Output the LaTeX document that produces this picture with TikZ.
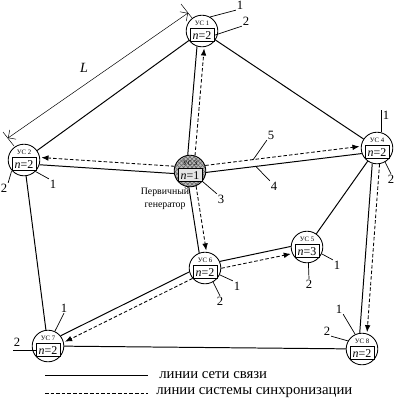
\documentclass[tikz,border=0pt]{standalone}
\usepackage{fontspec}
\setmainfont{Liberation Serif}
\usetikzlibrary{arrows.meta,calc,patterns}

\begin{document}
\begin{tikzpicture}[x=0.025cm, y=-0.025cm,
    uc/.style={circle, draw, fill=white, minimum size=0.79cm, inner sep=0pt, line width=0.6pt},
    ucg/.style={circle, draw, minimum size=0.79cm, inner sep=0pt, line width=0.6pt,
        preaction={fill=gray!55}, pattern=crosshatch, pattern color=black!60},
    uctxt/.style={font=\fontsize{4.8}{5}\selectfont, inner sep=0pt},
    nbox/.style={draw, line width=0.7pt, fill=white, minimum width=0.6cm, minimum height=0.33cm,
        inner sep=0pt, font=\fontsize{8.5}{9}\selectfont},
    comm/.style={line width=0.7pt},
    sync/.style={dash pattern=on 2.5pt off 1.5pt, line width=0.6pt, shorten >=1pt,
        -{Latex[length=5pt,width=4pt]}},
    dim/.style={line width=0.35pt},
    num/.style={font=\fontsize{9}{9}\selectfont, inner sep=0.5pt},
    lead/.style={line width=0.5pt},
    legtxt/.style={font=\fontsize{10.5}{11}\selectfont, inner sep=0pt}]

    \useasboundingbox (0,0) rectangle (400,410);

    % 1. Disegna i nodi (cerchi con la scritta e il riquadro n)
    \foreach \nm/\x/\y/\k/\n in {u1/202/31/1/2, u2/24/160/2/2, u4/377/148/4/2,
        u5/307/247/5/3, u6/205/268/6/2, u7/48/346/7/2, u8/362/349/8/2}
    {
        \node[uc] (\nm) at (\x,\y) {};
        \node[uctxt] (\nm t) at ([yshift=5.5pt]\nm.center) {УС \k};
        \node[nbox] (\nm n) at ([yshift=-3pt]\nm.center) {\textit{n}=\n};
    }

    % 2. Il nodo del generatore primario, tratteggiato
    \node[ucg] (u3) at (190,171) {};
    \node[uctxt] (u3t) at ([yshift=5.5pt]u3.center) {УС 3};
    \node[nbox, fill=gray!20] (u3n) at ([yshift=-3pt]u3.center) {\textit{n}=1};
    \node[align=center, font=\fontsize{7}{9}\selectfont, inner sep=0pt] (gen) at (165,199) {Первичный\\генератор};

    % 3. Linee della rete (coppie: linea continua + freccia tratteggiata)
    \foreach \src/\dst/\sd in {u3/u1/-1, u3/u2/-1, u3/u4/1, u3/u6/1, u6/u5/-1, u4/u8/1, u6/u7/1}
    {
        \draw[comm] let \p1=($(\dst)-(\src)$), \n1={atan2(\y1,\x1)},
            \n2={int(\n1-(\sd)*13)}, \n3={int(\n1+180+(\sd)*13)} in (\src.\n2) -- (\dst.\n3);
        \draw[sync] let \p1=($(\dst)-(\src)$), \n1={atan2(\y1,\x1)},
            \n2={int(\n1+(\sd)*13)}, \n3={int(\n1+180-(\sd)*13)} in (\src.\n2) -- (\dst.\n3);
    }

    % 4. Linee della rete senza sincronizzazione
    \draw[comm] (u2) -- (u1);
    \draw[comm] (u1) -- (u4);
    \draw[comm] (u4) -- (u5);
    \draw[comm] (u2) -- (u7);
    \draw[comm] (u7) -- (u8);

    % 5. La quota L tra i nodi 1 e 2
    \coordinate (La) at (8,138);
    \coordinate (Lb) at (188,13);
    \coordinate (La1) at (3,132);
    \coordinate (La2) at (14,146);
    \coordinate (Lb1) at (181,4);
    \coordinate (Lb2) at (192,18);
    \draw[dim, {Straight Barb[length=4pt]}-{Straight Barb[length=4pt]}] (La) -- (Lb);
    \draw[dim] (La1) -- (La2);
    \draw[dim] (Lb1) -- (Lb2);
    \node[font=\fontsize{10}{10}\selectfont\itshape] (Ltxt) at (84,68) {L};

    % 6. Numeri di riferimento con le linee di richiamo
    \node[num] (u1a) at (240,5) {1};
    \node[num] (u1b) at (246,21) {2};
    \draw[lead] (u1.60) -- (u1a.south west);
    \draw[lead] (u1n.east) -- (u1b.south west);

    \node[num] (u2a) at (53,184) {1};
    \node[num] (u2b) at (4,188) {2};
    \draw[lead] (u2.-45) -- (u2a.north west);
    \draw[lead] (u2n.south west) -- (u2b.north east);

    \node[num] (u3a) at (221,199) {3};
    \draw[lead] (u3.-40) -- (u3a.north west);

    \node[num, anchor=north west] (u4a) at (382,110) {1};
    \node[num] (u4b) at (391,179) {2};
    \draw[lead] (u4.75) -- (u4.75 |- u4a.north);
    \draw[lead] (u4.-60) -- (u4b.north);

    \coordinate (p5) at ($(u3)!0.34!(u4)!2.5pt!90:(u4)$);
    \coordinate (p4) at ($(u3)!0.35!(u4)!2.5pt!-90:(u4)$);
    \node[num] (l5) at (271,135) {5};
    \node[num] (l4) at (274,186) {4};
    \draw[lead] (p5) -- (l5.south west);
    \draw[lead] (p4) -- (l4.north west);

    \node[num] (u5a) at (337,265) {1};
    \node[num] (u5b) at (309,284) {2};
    \draw[lead] (u5.-25) -- (u5a.north west);
    \draw[lead] (u5.-85) -- (u5b.north);

    \node[num] (u6a) at (237,286) {1};
    \node[num] (u6b) at (220,301) {2};
    \draw[lead] (u6.-25) -- (u6a.north west);
    \draw[lead] (u6.-60) -- (u6b.north);

    \node[num] (u7a) at (64,308) {1};
    \node[num] (u7b) at (17,342) {2};
    \draw[lead] (u7.65) -- (u7a.south);
    \draw[lead] (u7n.west) -- (u7n.west -| u7b.west);

    \node[num] (u8a) at (339,309) {1};
    \node[num] (u8b) at (327,331) {2};
    \draw[lead] (u8.115) -- (u8a.south east);
    \draw[lead] (u8.150) -- (u8b.south east);

    % 7. Legenda
    \coordinate (s1) at (45,375);
    \coordinate (s2) at (148,375);
    \coordinate (d1) at (45,393);
    \coordinate (d2) at (148,393);
    \draw[line width=0.6pt] (s1) -- (s2);
    \draw[line width=0.5pt, dash pattern=on 2.5pt off 1.5pt] (d1) -- (d2);
    \node[legtxt, anchor=west] (t1) at (159,375) {линии сети связи};
    \node[legtxt, anchor=west] (t2) at (156,393) {линии системы синхронизации};

\end{tikzpicture}
\end{document}
